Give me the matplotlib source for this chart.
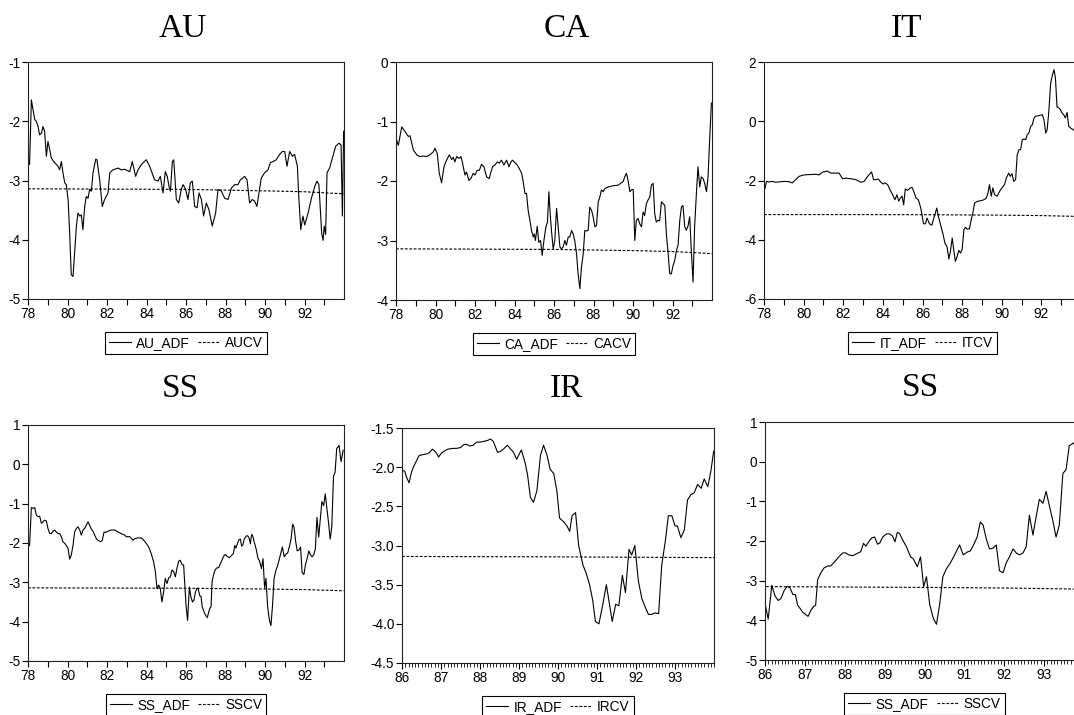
import numpy as np
import matplotlib
matplotlib.use("Agg")
import matplotlib.pyplot as plt
from matplotlib.ticker import MultipleLocator

plt.rcParams['font.family'] = ['Liberation Sans', 'DejaVu Sans']
plt.rcParams['axes.unicode_minus'] = False

# ---- data (decimal years, ADF statistic) ----
au_dates = [78.00, 78.08, 78.17, 78.25, 78.34, 78.42, 78.51, 78.59, 78.68, 78.76, 78.84, 78.93,
            79.01, 79.10, 79.18, 79.35, 79.52, 79.60, 79.69, 79.77, 79.86, 79.94, 80.03, 80.11,
            80.19, 80.28, 80.36, 80.45, 80.53, 80.62, 80.70, 80.78, 80.87, 80.95, 81.04, 81.12,
            81.21, 81.29, 81.43, 81.49, 81.63, 81.76, 81.88, 82.05, 82.14, 82.30, 82.56, 82.73,
            82.89, 83.15, 83.28, 83.45, 83.57, 83.74, 83.99, 84.16, 84.41, 84.58, 84.70, 84.84,
            84.95, 85.05, 85.14, 85.21, 85.31, 85.38, 85.51, 85.63, 85.76, 85.85, 85.98, 86.10,
            86.22, 86.32, 86.44, 86.56, 86.66, 86.78, 86.89, 87.03, 87.16, 87.33, 87.50, 87.62,
            87.79, 87.96, 88.13, 88.30, 88.46, 88.63, 88.75, 88.97, 89.09, 89.22, 89.36, 89.48,
            89.59, 89.81, 89.98, 90.15, 90.27, 90.41, 90.57, 90.74, 90.88, 91.00, 91.11, 91.25,
            91.38, 91.50, 91.64, 91.70, 91.81, 91.92, 92.01, 92.18, 92.35, 92.52, 92.63, 92.73,
            92.80, 92.87, 92.94, 93.00, 93.07, 93.14, 93.27, 93.44, 93.58, 93.75, 93.85, 93.92,
            93.98]
au_adf = [-2.70, -2.73, -1.64, -1.80, -1.97, -2.00, -2.09, -2.23, -2.20, -2.09, -2.17, -2.59,
          -2.34, -2.48, -2.62, -2.70, -2.76, -2.82, -2.68, -2.87, -3.04, -3.07, -3.32, -3.89,
          -4.59, -4.62, -4.22, -3.77, -3.55, -3.60, -3.58, -3.83, -3.44, -3.27, -3.30, -3.15,
          -3.18, -2.87, -2.64, -2.65, -2.99, -3.44, -3.32, -3.21, -2.87, -2.82, -2.79, -2.82,
          -2.81, -2.85, -2.68, -2.93, -2.82, -2.73, -2.65, -2.76, -2.99, -3.01, -2.93, -3.21,
          -2.85, -2.93, -3.10, -3.18, -2.68, -2.65, -3.32, -3.38, -3.15, -3.07, -3.15, -3.32,
          -3.04, -3.01, -3.44, -3.46, -3.21, -3.32, -3.60, -3.38, -3.49, -3.77, -3.55, -3.15,
          -3.18, -3.30, -3.32, -3.13, -3.07, -3.07, -2.99, -2.93, -2.99, -3.38, -3.32, -3.35,
          -3.44, -2.96, -2.87, -2.82, -2.70, -2.68, -2.65, -2.56, -2.51, -2.51, -2.76, -2.51,
          -2.59, -2.56, -2.76, -3.21, -3.83, -3.60, -3.75, -3.55, -3.30, -3.10, -3.01, -3.07,
          -3.49, -3.89, -4.01, -3.77, -3.91, -2.87, -2.79, -2.59, -2.42, -2.37, -2.40, -3.60,
          -2.17]

ca_dates = [78.03, 78.12, 78.29, 78.46, 78.62, 78.71, 78.88, 79.05, 79.21, 79.38, 79.55, 79.72,
            79.89, 79.97, 80.09, 80.19, 80.31, 80.43, 80.56, 80.70, 80.82, 80.90, 80.98, 81.07,
            81.19, 81.29, 81.37, 81.49, 81.57, 81.69, 81.79, 81.91, 82.00, 82.11, 82.22, 82.33,
            82.45, 82.59, 82.72, 82.79, 82.89, 83.01, 83.13, 83.23, 83.34, 83.46, 83.60, 83.72,
            83.82, 83.90, 84.02, 84.14, 84.24, 84.36, 84.44, 84.53, 84.61, 84.69, 84.78, 84.86,
            84.95, 85.00, 85.06, 85.15, 85.23, 85.32, 85.40, 85.49, 85.59, 85.67, 85.74, 85.79,
            85.87, 85.96, 86.04, 86.13, 86.21, 86.30, 86.38, 86.46, 86.55, 86.63, 86.72, 86.80,
            86.89, 86.97, 87.05, 87.14, 87.22, 87.31, 87.39, 87.48, 87.56, 87.64, 87.73, 87.81,
            87.90, 87.98, 88.07, 88.15, 88.24, 88.32, 88.40, 88.49, 88.57, 88.74, 88.99, 89.25,
            89.41, 89.50, 89.58, 89.67, 89.75, 89.84, 89.92, 90.01, 90.09, 90.17, 90.26, 90.34,
            90.43, 90.51, 90.59, 90.68, 90.76, 90.85, 90.93, 91.02, 91.10, 91.18, 91.27, 91.35,
            91.44, 91.52, 91.61, 91.69, 91.78, 91.86, 91.94, 92.03, 92.11, 92.20, 92.28, 92.37,
            92.45, 92.53, 92.62, 92.70, 92.79, 92.87, 92.96, 93.04, 93.12, 93.21, 93.29, 93.38,
            93.46, 93.55, 93.63, 93.72, 93.80, 93.88, 93.97]
ca_adf = [-1.31, -1.40, -1.09, -1.17, -1.25, -1.24, -1.48, -1.56, -1.59, -1.58, -1.59, -1.56,
          -1.51, -1.45, -1.54, -1.87, -2.03, -1.76, -1.65, -1.56, -1.64, -1.60, -1.68, -1.59,
          -1.62, -1.59, -1.70, -1.90, -1.85, -1.99, -1.96, -1.87, -1.90, -1.82, -1.82, -1.72,
          -1.76, -1.93, -1.96, -1.87, -1.76, -1.73, -1.68, -1.70, -1.65, -1.73, -1.65, -1.76,
          -1.68, -1.65, -1.69, -1.73, -1.79, -1.87, -2.01, -2.21, -2.21, -2.49, -2.66, -2.83,
          -2.94, -2.89, -3.00, -2.76, -3.03, -3.00, -3.25, -3.00, -2.77, -2.69, -2.18, -2.46,
          -2.83, -3.14, -3.00, -2.46, -2.77, -3.11, -3.14, -3.11, -3.00, -3.08, -2.94, -2.94,
          -2.83, -2.89, -3.00, -3.22, -3.56, -3.81, -3.45, -3.22, -2.83, -2.84, -2.83, -2.44,
          -2.49, -2.60, -2.77, -2.75, -2.35, -2.27, -2.15, -2.18, -2.13, -2.10, -2.08, -2.07,
          -2.03, -2.01, -1.93, -1.87, -1.99, -2.18, -2.15, -2.14, -3.00, -2.66, -2.63, -2.72,
          -2.77, -2.52, -2.58, -2.38, -2.32, -2.27, -2.07, -2.04, -2.55, -2.69, -2.66, -2.67,
          -2.35, -2.38, -2.41, -2.89, -3.22, -3.56, -3.56, -3.42, -3.34, -3.17, -3.08, -2.66,
          -2.44, -2.41, -2.77, -2.83, -2.75, -2.60, -3.22, -3.70, -2.77, -2.21, -1.76, -2.10,
          -1.93, -1.96, -2.04, -2.18, -1.93, -1.31, -0.69]

it_dates = [78.03, 78.13, 78.25, 78.42, 78.59, 78.84, 79.10, 79.26, 79.43, 79.60, 79.77, 80.02,
            80.36, 80.61, 80.78, 80.95, 81.20, 81.37, 81.63, 81.79, 81.96, 82.13, 82.38, 82.64,
            82.89, 83.06, 83.23, 83.43, 83.53, 83.65, 83.77, 83.90, 84.02, 84.11, 84.24, 84.36,
            84.49, 84.61, 84.71, 84.80, 84.88, 84.97, 85.05, 85.13, 85.25, 85.37, 85.47, 85.56,
            85.67, 85.79, 85.89, 85.96, 86.05, 86.15, 86.23, 86.35, 86.47, 86.55, 86.64, 86.72,
            86.80, 86.91, 87.02, 87.14, 87.24, 87.33, 87.41, 87.50, 87.58, 87.66, 87.75, 87.83,
            87.92, 88.00, 88.09, 88.17, 88.25, 88.37, 88.46, 88.54, 88.63, 88.79, 88.96, 89.10,
            89.22, 89.30, 89.38, 89.47, 89.55, 89.64, 89.77, 89.89, 90.01, 90.14, 90.23, 90.35,
            90.43, 90.52, 90.60, 90.70, 90.78, 90.87, 90.95, 91.04, 91.12, 91.21, 91.29, 91.37,
            91.46, 91.54, 91.63, 91.71, 91.88, 92.05, 92.13, 92.22, 92.29, 92.37, 92.47, 92.56,
            92.64, 92.71, 92.79, 92.88, 92.96, 93.04, 93.13, 93.21, 93.30, 93.38, 93.48, 93.60,
            93.69, 93.80, 93.95]
it_adf = [-2.31, -2.03, -2.05, -2.03, -2.06, -2.04, -2.03, -2.04, -2.08, -1.97, -1.86, -1.81,
          -1.80, -1.79, -1.81, -1.72, -1.68, -1.75, -1.75, -1.75, -1.94, -1.92, -1.94, -1.97,
          -2.06, -2.03, -1.86, -1.71, -1.97, -1.97, -1.95, -2.06, -2.12, -2.08, -2.14, -2.31,
          -2.48, -2.65, -2.48, -2.70, -2.59, -2.53, -2.82, -2.29, -2.33, -2.26, -2.23, -2.37,
          -2.59, -2.65, -2.87, -3.10, -3.46, -3.46, -3.27, -3.46, -3.51, -3.32, -3.10, -2.93,
          -3.21, -3.49, -3.77, -4.13, -4.24, -4.65, -4.39, -3.94, -4.36, -4.73, -4.56, -4.36,
          -4.45, -4.33, -3.66, -3.58, -3.64, -3.63, -3.32, -3.10, -2.76, -2.70, -2.68, -2.65,
          -2.59, -2.44, -2.14, -2.53, -2.25, -2.48, -2.53, -2.37, -2.25, -2.14, -1.92, -1.75,
          -1.86, -1.77, -2.03, -1.97, -1.13, -0.96, -0.96, -0.62, -0.60, -0.62, -0.45, -0.40,
          -0.17, -0.12, 0.11, 0.17, 0.19, 0.22, 0.05, -0.40, -0.29, 0.28, 1.29, 1.57,
          1.74, 1.46, 0.48, 0.45, 0.39, 0.28, 0.22, 0.11, 0.30, -0.17, -0.23, -0.28,
          -0.34, -0.35, -0.30]

ss_dates = [78.00, 78.08, 78.17, 78.25, 78.34, 78.42, 78.51, 78.59, 78.68, 78.76, 78.84, 78.93,
            79.01, 79.10, 79.18, 79.27, 79.35, 79.43, 79.52, 79.60, 79.69, 79.77, 79.86, 79.94,
            80.03, 80.11, 80.19, 80.28, 80.36, 80.45, 80.53, 80.62, 80.70, 80.78, 80.87, 80.95,
            81.04, 81.12, 81.21, 81.29, 81.38, 81.46, 81.54, 81.68, 81.76, 81.85, 81.93, 82.05,
            82.22, 82.39, 82.56, 82.73, 82.89, 82.98, 83.15, 83.32, 83.40, 83.57, 83.74, 83.86,
            83.99, 84.13, 84.24, 84.36, 84.45, 84.53, 84.62, 84.70, 84.78, 84.87, 84.95, 85.04,
            85.12, 85.21, 85.29, 85.38, 85.46, 85.54, 85.63, 85.71, 85.80, 85.88, 85.94,
            86.00, 86.08, 86.17, 86.25, 86.33, 86.40, 86.48, 86.55, 86.62, 86.70, 86.76, 86.82,
            86.88, 86.95, 87.08, 87.15, 87.22, 87.27, 87.32, 87.40, 87.48, 87.57, 87.65, 87.75,
            87.85, 87.95, 88.02, 88.10, 88.20, 88.30, 88.40, 88.47, 88.53, 88.60, 88.68, 88.75,
            88.82, 88.88, 88.95, 89.05, 89.13, 89.20, 89.26, 89.32, 89.38, 89.45, 89.55, 89.65,
            89.72, 89.82, 89.90, 89.98, 90.05, 90.13, 90.22, 90.30, 90.38, 90.46, 90.55, 90.65,
            90.73, 90.88, 90.97, 91.07, 91.15, 91.23, 91.32, 91.40, 91.47, 91.55, 91.63, 91.72,
            91.80, 91.88, 91.97, 92.05, 92.13, 92.22, 92.30, 92.38, 92.47, 92.55, 92.63, 92.72,
            92.78, 92.88, 92.97, 93.05, 93.13, 93.22, 93.30, 93.38, 93.47, 93.55, 93.63, 93.75,
            93.85, 93.96]
ss_adf = [-2.04, -2.07, -1.10, -1.12, -1.10, -1.29, -1.33, -1.32, -1.50, -1.46, -1.42, -1.44,
          -1.63, -1.76, -1.76, -1.70, -1.67, -1.72, -1.76, -1.76, -1.84, -1.97, -2.01, -2.06,
          -2.14, -2.41, -2.31, -2.06, -1.72, -1.63, -1.59, -1.67, -1.80, -1.67, -1.63, -1.55,
          -1.46, -1.55, -1.65, -1.70, -1.80, -1.89, -1.93, -1.97, -1.93, -1.72, -1.73, -1.70,
          -1.67, -1.67, -1.72, -1.76, -1.80, -1.84, -1.84, -1.93, -1.89, -1.87, -1.87, -1.93,
          -2.01, -2.12, -2.27, -2.48, -2.73, -3.16, -3.07, -3.16, -3.50, -3.24, -2.90, -3.03,
          -2.89, -2.86, -2.69, -2.73, -2.86, -2.65, -2.46, -2.44, -2.55, -2.56, -3.07,
          -3.57, -3.97, -3.12, -3.38, -3.50, -3.45, -3.25, -3.15, -3.17, -3.35, -3.35, -3.62,
          -3.70, -3.80, -3.90, -3.75, -3.65, -3.62, -2.98, -2.80, -2.68, -2.63, -2.63, -2.52,
          -2.40, -2.30, -2.30, -2.35, -2.37, -2.32, -2.27, -2.06, -2.13, -2.02, -1.92, -1.90,
          -2.08, -2.05, -1.90, -1.82, -1.82, -1.88, -2.02, -1.78, -1.82, -1.97, -2.15, -2.40,
          -2.45, -2.65, -2.40, -3.15, -2.90, -3.60, -3.95, -4.10, -3.60, -2.90, -2.70, -2.55,
          -2.40, -2.10, -2.35, -2.28, -2.25, -2.10, -1.90, -1.52, -1.60, -1.95, -2.20, -2.18,
          -2.10, -2.75, -2.80, -2.55, -2.40, -2.20, -2.30, -2.35, -2.30, -2.15, -1.35, -1.85,
          -1.50, -0.95, -1.05, -0.75, -1.10, -1.50, -1.90, -1.60, -0.30, -0.20, 0.40, 0.48,
          0.07, 0.36]

ir_dates = [86.00, 86.07, 86.11, 86.18, 86.24, 86.30, 86.37, 86.44, 86.54, 86.63, 86.69, 86.78,
            86.87, 86.94, 87.01, 87.10, 87.18, 87.30, 87.40, 87.50, 87.59, 87.66, 87.74, 87.83,
            87.91, 88.00, 88.10, 88.19, 88.27, 88.34, 88.45, 88.52, 88.60, 88.70, 88.77, 88.86,
            88.94, 89.06, 89.16, 89.22, 89.29, 89.37, 89.46, 89.55, 89.63, 89.72, 89.80, 89.89,
            89.97, 90.04, 90.15, 90.23, 90.30, 90.36, 90.45, 90.53, 90.64, 90.72, 90.81, 90.89,
            90.96, 91.05, 91.15, 91.24, 91.32, 91.39, 91.48, 91.56, 91.65, 91.73, 91.82, 91.89,
            91.97, 92.06, 92.15, 92.23, 92.32, 92.40, 92.49, 92.58, 92.66, 92.75, 92.83, 92.92,
            93.00, 93.06, 93.15, 93.24, 93.32, 93.41, 93.49, 93.58, 93.67, 93.75, 93.84, 93.92,
            93.99]
ir_adf = [-2.04, -2.05, -2.12, -2.20, -2.07, -1.99, -1.92, -1.85, -1.84, -1.83, -1.82, -1.77,
          -1.81, -1.87, -1.82, -1.79, -1.77, -1.76, -1.76, -1.75, -1.71, -1.71, -1.73, -1.72,
          -1.68, -1.68, -1.67, -1.66, -1.64, -1.67, -1.81, -1.80, -1.77, -1.72, -1.76, -1.81,
          -1.90, -1.78, -1.95, -2.10, -2.38, -2.45, -2.30, -1.85, -1.72, -1.85, -2.03, -2.08,
          -2.30, -2.65, -2.70, -2.75, -2.82, -2.62, -2.58, -3.00, -3.25, -3.35, -3.50, -3.70,
          -3.97, -4.00, -3.75, -3.50, -3.75, -3.97, -3.75, -3.77, -3.38, -3.60, -3.05, -3.12,
          -3.00, -3.45, -3.68, -3.78, -3.88, -3.88, -3.86, -3.87, -3.25, -2.95, -2.62, -2.62,
          -2.75, -2.75, -2.90, -2.80, -2.42, -2.35, -2.33, -2.22, -2.27, -2.15, -2.25, -2.05,
          -1.80]

# 5% critical values (nearly flat, slight downward drift)
cv_dates = [78.0, 82.0, 86.0, 90.0, 92.0, 94.0]
au_cv = [-3.14, -3.145, -3.15, -3.175, -3.19, -3.225]
ca_cv = [-3.14, -3.145, -3.15, -3.17, -3.185, -3.22]
it_cv = [-3.15, -3.15, -3.155, -3.17, -3.185, -3.215]
ss_cv = [-3.14, -3.145, -3.15, -3.17, -3.185, -3.215]
ir_cv_dates = [86.0, 90.0, 94.0]
ir_cv = [-3.14, -3.145, -3.155]

W, H = 1074, 715
fig = plt.figure(figsize=(W / 100, H / 100), dpi=100)


def px_rect(left, top, right, bottom):
    return [left / W, 1 - bottom / H, (right - left) / W, (bottom - top) / H]


def panel(rect, x, y, cx, cy, names, xmin, yticks, yfmt, monthly):
    ax = fig.add_axes(rect)
    ax.plot(x, y, color='black', lw=0.8, label=names[0])
    ax.plot(cx, cy, color='black', lw=0.8, ls=(0, (2.5, 1.5)), label=names[1])
    ax.set_xlim(xmin, 94)
    ax.set_ylim(yticks[0], yticks[-1])
    ax.set_yticks(yticks)
    ax.set_yticklabels([yfmt % v for v in yticks])
    yrs = list(range(xmin, 94))
    ax.set_xticks(yrs)
    if monthly:
        ax.set_xticklabels([str(v) for v in yrs])
        ax.xaxis.set_minor_locator(MultipleLocator(1 / 12))
    else:
        ax.set_xticklabels([str(v) if v % 2 == 0 else '' for v in yrs])
    ax.tick_params(axis='both', which='major', direction='out', length=4, width=0.8,
                   labelsize=9.8, pad=1.5, color='black')
    ax.tick_params(axis='x', which='minor', direction='out', length=3, width=0.6)
    for s in ax.spines.values():
        s.set_linewidth(0.8)
        s.set_color('#222222')
    hgt = rect[3] * H
    leg = ax.legend(loc='upper center', bbox_to_anchor=(0.5, -33 / hgt), ncol=2,
                    fontsize=9.8, frameon=True, fancybox=False, edgecolor='black',
                    framealpha=1, borderpad=0.3, handlelength=1.6, handletextpad=0.4,
                    columnspacing=0.6, borderaxespad=0)
    leg.get_frame().set_linewidth(0.8)
    return ax


panel(px_rect(28, 62, 344, 299), au_dates, au_adf, cv_dates, au_cv,
      ['AU_ADF', 'AUCV'], 78, [-5, -4, -3, -2, -1], '%d', False)
panel(px_rect(396, 62, 712, 300), ca_dates, ca_adf, cv_dates, ca_cv,
      ['CA_ADF', 'CACV'], 78, [-4, -3, -2, -1, 0], '%d', False)
panel(px_rect(764, 62, 1081, 299), it_dates, it_adf, cv_dates, it_cv,
      ['IT_ADF', 'ITCV'], 78, [-6, -4, -2, 0, 2], '%d', False)
panel(px_rect(28, 425, 344, 661), ss_dates, ss_adf, cv_dates, ss_cv,
      ['SS_ADF', 'SSCV'], 78, [-5, -4, -3, -2, -1, 0, 1], '%d', False)
panel(px_rect(402, 428, 714, 663), ir_dates, ir_adf, ir_cv_dates, ir_cv,
      ['IR_ADF', 'IRCV'], 86, [-4.5, -4.0, -3.5, -3.0, -2.5, -2.0, -1.5], '%.1f', True)
panel(px_rect(765, 422, 1084, 660), ss_dates, ss_adf, cv_dates, ss_cv,
      ['SS_ADF', 'SSCV'], 86, [-5, -4, -3, -2, -1, 0, 1], '%d', True)

titles = [('AU', 183, 37), ('CA', 567, 37), ('IT', 906, 37),
          ('SS', 180, 397), ('IR', 566, 397), ('SS', 920, 396)]
for t, xc, yb in titles:
    fig.text(xc / W, 1 - yb / H, t, ha='center', va='baseline', fontsize=24,
             family=['Liberation Serif', 'DejaVu Serif'])

fig.savefig('out.png', dpi=100)
